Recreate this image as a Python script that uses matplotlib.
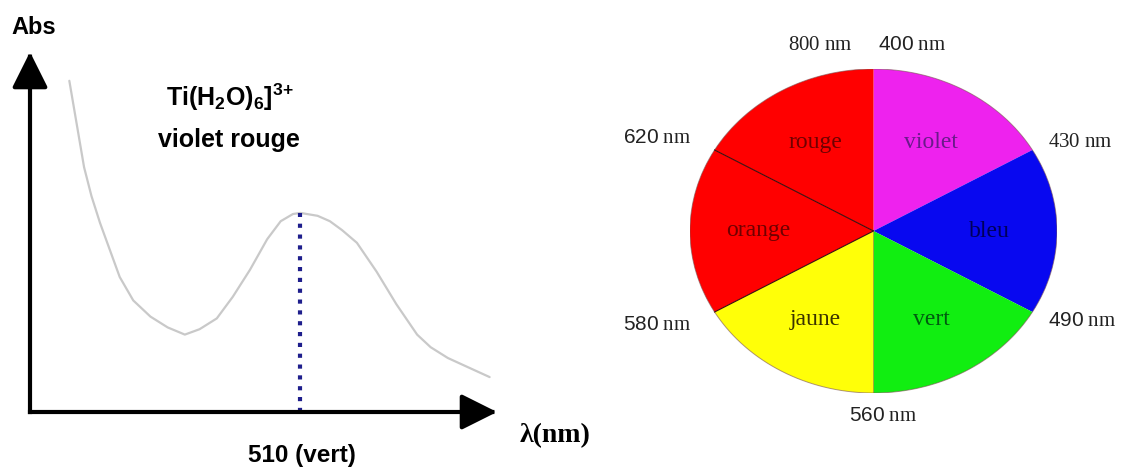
import matplotlib

matplotlib.use("Agg")
import matplotlib.pyplot as plt
import numpy as np
from matplotlib.patches import ArrowStyle

# absorption sketch of Ti(H2O)6 3+ (arbitrary absorbance units)
wavelength_nm = [416, 418, 420, 422, 425, 428.5, 432.5, 436.5, 442, 449,
                 456, 463, 469, 476, 482.5, 489.5, 496.5, 502, 507, 510,
                 517, 522, 527, 533, 537, 541, 545, 549, 553.5, 557.5,
                 563, 570, 578, 587]
absorbance = [0.92, 0.84, 0.76, 0.68, 0.60, 0.525, 0.45, 0.375, 0.31, 0.265,
              0.235, 0.215, 0.23, 0.26, 0.32, 0.395, 0.48, 0.53, 0.55, 0.553,
              0.545, 0.53, 0.505, 0.47, 0.43, 0.39, 0.345, 0.30, 0.255, 0.215,
              0.18, 0.15, 0.125, 0.097]
peak_nm = 510
axis_nm = [400, 590]
axis_abs = [0.0, 1.0]

# colour wheel, clockwise from the top
wheel_names = ["violet", "bleu", "vert", "jaune", "orange", "rouge"]
wheel_share = [1, 1, 1, 1, 1, 1]
wheel_colors = ["#ee22ee", "#0808f0", "#11ee11", "#ffff08", "#ff0000", "#ff0000"]
wheel_text_colors = ["#6a1a8a", "#00005a", "#005a10", "#3a3200", "#700000", "#700000"]
boundary_nm = [400, 430, 490, 560, 580, 620, 800]

plt.rcParams.update({
    "font.family": "Liberation Sans",
    "mathtext.fontset": "custom",
    "mathtext.rm": "Liberation Serif",
    "mathtext.it": "Liberation Serif:italic",
    "mathtext.sf": "Liberation Sans",
    "mathtext.bf": "Liberation Sans:bold",
})

W, H = 1126, 467
fig = plt.figure(figsize=(W / 100, H / 100), dpi=100)
fig.patch.set_facecolor("white")

# ---- left: absorption spectrum ----
ax = fig.add_axes([30 / W, 55 / H, 467 / W, 360 / H])
ax.set_xlim(axis_nm)
ax.set_ylim(axis_abs)
ax.axis("off")

ax.plot(wavelength_nm, absorbance, color="#c9c9c9", lw=1.6,
        solid_joinstyle="round", solid_capstyle="round")
peak_abs = absorbance[wavelength_nm.index(peak_nm)]
ax.plot([peak_nm, peak_nm], [axis_abs[0], peak_abs], color="#1e1e8c",
        lw=3, linestyle=(0, (1, 1.6)))

head = ArrowStyle("-|>", head_length=1.0, head_width=0.5)
arrow_kw = dict(arrowstyle=head, color="black", lw=3, mutation_scale=22,
                shrinkA=0, shrinkB=0, capstyle="projecting")
ax.annotate("", xy=(axis_nm[0], axis_abs[1]), xytext=(axis_nm[0], axis_abs[0]),
            arrowprops=arrow_kw, annotation_clip=False)
ax.annotate("", xy=(axis_nm[1], axis_abs[0]), xytext=(axis_nm[0], axis_abs[0]),
            arrowprops=arrow_kw, annotation_clip=False)

fig.text(34 / W, 1 - 28 / H, "Abs", fontsize=17, fontweight="bold",
         ha="center", va="center")
fig.text(230 / W, 1 - 97 / H, r"$\mathbf{Ti(H_2O)_6]^{3{+}}}$", fontsize=18,
         ha="center", va="center")
fig.text(229 / W, 1 - 140 / H, "violet rouge", fontsize=18, fontweight="bold",
         ha="center", va="center")
ax.annotate(f"{peak_nm} (vert)", xy=(peak_nm, axis_abs[0]), xytext=(1, -31),
            textcoords="offset points", ha="center", va="center",
            fontsize=17.5, fontweight="bold", annotation_clip=False)
ax.annotate("λ(nm)", xy=(axis_nm[1], axis_abs[0]), xytext=(16, -17),
            textcoords="offset points", ha="left", va="center",
            fontsize=20, fontweight="bold", family="Liberation Serif",
            annotation_clip=False)

# ---- right: colour wheel (squashed pie) ----
axw = fig.add_axes([690 / W, 74 / H, 367 / W, 324 / H])
wedges, texts = axw.pie(wheel_share, colors=wheel_colors, startangle=90,
                        counterclock=False, labels=wheel_names,
                        labeldistance=0.63, wedgeprops=dict(linewidth=0),
                        textprops=dict(family="Liberation Serif", fontsize=17))
for t, c in zip(texts, wheel_text_colors):
    t.set_color(c)
    t.set_horizontalalignment("center")
axw.set_aspect("auto")
axw.set_xlim(-1, 1)
axw.set_ylim(-1, 1)
axw.axis("off")

# boundary angles, clockwise from the top
edges = 90 - 360 * np.concatenate([[0], np.cumsum(wheel_share)]) / sum(wheel_share)
theta = np.linspace(0, 2 * np.pi, 400)
axw.plot(np.cos(theta), np.sin(theta), color="#7a5050", lw=0.7, alpha=0.6)
for ang in edges[4:6]:
    a = np.deg2rad(ang)
    axw.plot([0, np.cos(a)], [0, np.sin(a)], color="#3a1010", lw=0.8)
a = np.deg2rad(edges[3])
axw.plot([0, np.cos(a)], [0, np.sin(a)], color="#806020", lw=0.6, alpha=0.6)

serif_numbers = {430, 800}
for nm, ang in zip(boundary_nm, edges):
    a = np.deg2rad(ang)
    cx, cy = np.cos(a), np.sin(a)
    num = rf"\mathrm{{{nm}}}" if nm in serif_numbers else rf"\mathsf{{{nm}}}"
    label = rf"${num}\ \mathrm{{nm}}$"
    if abs(cx) < 0.1 and cy > 0:
        first = nm == boundary_nm[0]
        xy = (0, 1.15)
        off = (3, 0) if first else (-15, 0)
        ha = "left" if first else "right"
    elif abs(cx) < 0.1:
        xy, off, ha = (0, -1.14), (7, 0), "center"
    else:
        r = 1.1 if cx > 0 else 1.15
        xy, off, ha = (r * cx, r * cy), (0, 0), ("left" if cx > 0 else "right")
    axw.annotate(label, xy=xy, xytext=off, textcoords="offset points",
                 ha=ha, va="center", fontsize=15, color="#222222",
                 annotation_clip=False)

fig.savefig("out.png", dpi=100, facecolor="white")
